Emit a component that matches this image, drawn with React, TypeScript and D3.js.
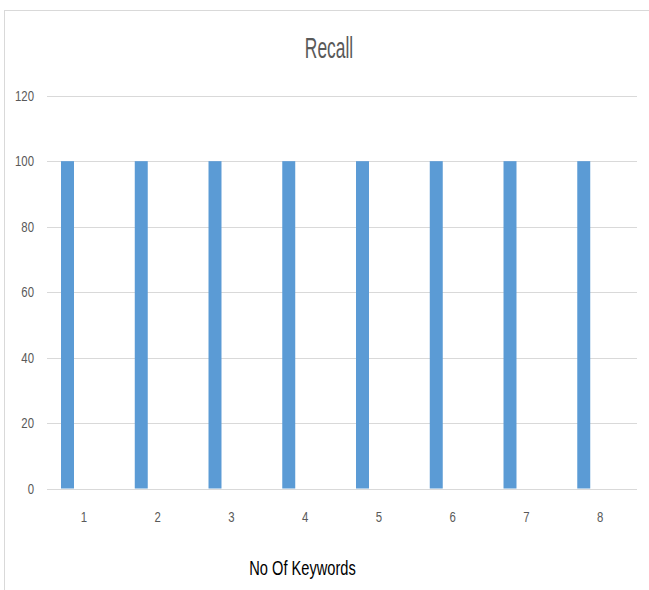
import React, { useRef, useEffect } from 'react';
import * as d3 from 'd3';

const categories = ['1', '2', '3', '4', '5', '6', '7', '8'];
const recallValues = [100, 100, 100, 100, 100, 100, 100, 100];
const yTicks = [0, 20, 40, 60, 80, 100, 120];

const W = 649;
const H = 590;
const sans = '"Liberation Sans", Arial, sans-serif';

const App = () => {
  const svgRef = useRef<SVGSVGElement>(null);

  useEffect(() => {
    const svg = d3.select(svgRef.current);
    svg.selectAll('*').remove();

    const x = d3.scaleBand().domain(categories).range([47, 637]);
    const y = d3.scaleLinear().domain([0, 120]).range([488.5, 95.7]);

    // the source picture was squashed sideways, so text gets a horizontal squeeze
    const narrowText = (parent: any, tx: number, ty: number, size: number, sx: number, anchor: string, fill: string, str: string) => {
      parent.append('text')
        .attr('transform', `translate(${tx},${ty}) scale(${sx},1)`)
        .attr('text-anchor', anchor)
        .attr('font-family', sans)
        .attr('font-size', size)
        .attr('fill', fill)
        .text(str);
    };

    // chart frame (only top/left edges are visible in the crop)
    svg.append('rect')
      .attr('x', 4.5).attr('y', 10.5)
      .attr('width', 800).attr('height', 800)
      .attr('fill', 'none')
      .attr('stroke', '#d9d9d9');

    narrowText(svg, 329, 58, 29, 0.6, 'middle', '#595959', 'Recall');

    svg.append('g').selectAll('line')
      .data(yTicks)
      .enter().append('line')
        .attr('x1', 47).attr('x2', 637)
        .attr('y1', d => Math.round(y(d)) + 0.5)
        .attr('y2', d => Math.round(y(d)) + 0.5)
        .attr('stroke', '#d9d9d9')
        .attr('stroke-width', 1);

    const yLab = svg.append('g');
    yTicks.forEach(t => narrowText(yLab, 34, y(t) + 5, 15, 0.76, 'end', '#595959', String(t)));

    const bw = x.bandwidth();
    svg.append('g').selectAll('rect')
      .data(recallValues)
      .enter().append('rect')
        .attr('x', (d, i) => x(categories[i])! + bw * 0.19)
        .attr('width', bw * 0.176)
        .attr('y', d => y(d))
        .attr('height', d => y(0) - y(d))
        .attr('fill', '#5b9bd5');

    const xLab = svg.append('g');
    categories.forEach(c => narrowText(xLab, x(c)! + bw / 2, 522, 15, 0.76, 'middle', '#595959', c));

    narrowText(svg, 302.5, 575, 19.5, 0.75, 'middle', '#000', 'No Of Keywords');
  }, []);

  return (
    <svg ref={svgRef} width={W} height={H}
      style={{ position: 'absolute', left: 0, top: 0, background: '#fff' }} />
  );
};

export default App;
